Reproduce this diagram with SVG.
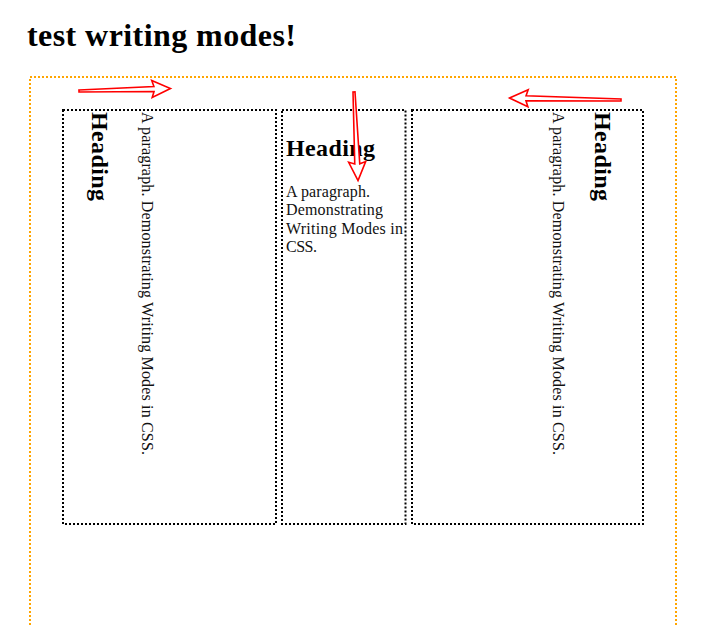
<svg xmlns="http://www.w3.org/2000/svg" width="708" height="625" viewBox="0 0 708 625">
<style>
.title{font-family:"Liberation Serif","Times New Roman",serif;font-weight:bold;font-size:32px;fill:#000}
.h{font-family:"Liberation Serif","Times New Roman",serif;font-weight:bold;font-size:24px;fill:#000}
.p{font-family:"Liberation Serif","Times New Roman",serif;font-size:16px;fill:#111}
.box{fill:none;stroke:#000;stroke-width:2;stroke-dasharray:2 2}
.wrap{fill:none;stroke:#FFA500;stroke-width:2;stroke-dasharray:2 2}
.arrow{fill:#fff;stroke:#f00;stroke-width:1.6;stroke-linejoin:miter}
</style>
<rect width="708" height="625" fill="#fff"/>
<text class="title" x="27" y="46" textLength="269">test writing modes!</text>
<rect id="wrapper" class="wrap" x="30" y="77" width="646" height="600"/>
<g id="box-vertical-lr">
<rect class="box" x="63" y="110" width="213" height="414"/>
<text class="h" transform="translate(91.7,112) rotate(90)" textLength="89">Heading</text>
<text class="p" transform="translate(141.5,112) rotate(90)" textLength="343">A paragraph. Demonstrating Writing Modes in CSS.</text>
</g>
<g id="box-horizontal-tb">
<rect class="box" x="282" y="110" width="123.5" height="414"/>
<text class="h" x="286" y="156" textLength="89">Heading</text>
<text class="p" x="286" y="197" textLength="84">A paragraph.</text>
<text class="p" x="286" y="215.4" textLength="97">Demonstrating</text>
<text class="p" x="286" y="233.8" textLength="117">Writing Modes in</text>
<text class="p" x="286" y="252.2" textLength="31">CSS.</text>
</g>
<g id="box-vertical-rl">
<rect class="box" x="412" y="110" width="231" height="414"/>
<text class="h" transform="translate(595,112) rotate(90)" textLength="89">Heading</text>
<text class="p" transform="translate(552.5,112) rotate(90)" textLength="343">A paragraph. Demonstrating Writing Modes in CSS.</text>
</g>
<g id="connectors">
<polygon class="arrow" transform="translate(79,91) rotate(-1.56)" points="0,-1 75,-2.5 73,-8.5 91.5,0 73,8.5 75,2.5 0,1"/>
<polygon class="arrow" transform="translate(354,92) rotate(87.4)" points="0,-1 72,-2.5 70,-8.5 88.6,0 70,8.5 72,2.5 0,1"/>
<polygon class="arrow" transform="translate(621,100) rotate(181.03)" points="0,-1 95,-2.5 93,-8.5 111.5,0 93,8.5 95,2.5 0,1"/>
</g>
</svg>
